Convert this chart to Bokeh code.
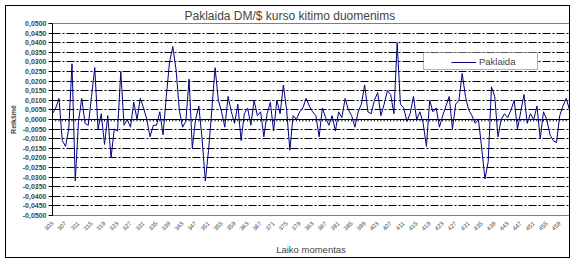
from math import pi
from bokeh.plotting import figure
from bokeh.models import (FixedTicker, Span, BoxAnnotation, Legend, LegendItem,
                          ColumnDataSource, Range1d)
from bokeh.embed import file_html
from bokeh.resources import INLINE

categories = list(range(303, 463))
errors = [
    0.003, 0.006, 0.011, -0.011, -0.014, -0.005, 0.029, -0.032, -0.001, 0.011,
    -0.002, -0.003, 0.012, 0.027, -0.005, 0.003, -0.013, 0.002, -0.020, -0.005,
    -0.006, 0.025, -0.003, 0.000, -0.004, 0.009, 0.000, 0.011, 0.006, 0.000,
    -0.009, -0.003, -0.003, 0.004, -0.008, 0.012, 0.030, 0.038, 0.026, 0.005,
    -0.004, -0.001, 0.021, -0.015, 0.000, 0.007, -0.010, -0.032, -0.016, 0.005,
    0.027, 0.010, 0.004, -0.004, 0.012, 0.004, -0.002, 0.008, -0.011, 0.003,
    0.006, -0.003, 0.010, 0.002, 0.004, -0.009, 0.003, 0.009, -0.006, 0.010,
    0.003, 0.018, 0.005, -0.016, 0.002, 0.000, 0.004, 0.006, 0.011, 0.007,
    0.004, 0.002, -0.009, 0.006, 0.001, -0.003, 0.002, -0.006, 0.004, 0.001,
    0.011, 0.005, 0.002, -0.004, 0.004, 0.008, 0.018, 0.004, 0.003, 0.010,
    0.014, 0.002, 0.008, 0.015, 0.013, 0.003, 0.040, 0.008, 0.006, -0.001,
    0.003, 0.012, 0.000, 0.004, -0.002, -0.014, 0.010, 0.004, 0.006, -0.004,
    0.002, 0.007, 0.012, -0.005, 0.008, 0.010, 0.024, 0.012, 0.005, 0.002,
    -0.002, 0.000, -0.015, -0.031, -0.022, 0.017, 0.012, -0.009, 0.000, 0.003,
    0.001, 0.005, 0.010, -0.005, 0.004, 0.013, -0.002, 0.003, 0.000, 0.007,
    -0.010, 0.004, 0.000, -0.008, -0.011, -0.012, 0.002, 0.007, 0.011, 0.005,
]
x_tick_labels = [303, 307, 311, 315, 319, 323, 327, 331, 335, 339, 343, 347, 351,
                 355, 359, 363, 367, 371, 375, 379, 383, 387, 391, 395, 399, 403,
                 407, 411, 415, 419, 423, 427, 431, 435, 439, 443, 447, 451, 455, 459]
y_ticks = [-0.05, -0.045, -0.04, -0.035, -0.03, -0.025, -0.02, -0.015, -0.01, -0.005,
           0.0, 0.005, 0.01, 0.015, 0.02, 0.025, 0.03, 0.035, 0.04, 0.045, 0.05]
y_tick_labels = ["-0,0500", "-0,0450", "-0,0400", "-0,0350", "-0,0300", "-0,0250",
                 "-0,0200", "-0,0150", "-0,0100", "-0,0050", "0,0000", "0,0050",
                 "0,0100", "0,0150", "0,0200", "0,0250", "0,0300", "0,0350",
                 "0,0400", "0,0450", "0,0500"]

FONT = "Liberation Sans"
NAVY = "#000080"

p = figure(width=565, height=253, output_backend="svg", toolbar_location=None,
           x_range=Range1d(categories[0], categories[-1]),
           y_range=Range1d(y_ticks[0], y_ticks[-1]),
           min_border_left=42, min_border_right=2, min_border_top=15,
           min_border_bottom=44)
p.margin = (5, 0, 0, 5)
p.styles = {"border": "1px solid black", "box-sizing": "border-box"}
p.background_fill_color = "white"
p.border_fill_color = "white"
p.outline_line_color = "#808080"
p.outline_line_width = 1

# title
p.title.text = "Paklaida DM/$ kurso kitimo duomenims"
p.title.text_font = FONT
p.title.text_font_size = "12px"
p.title.text_font_style = "normal"
p.title.align = "left"
p.title.offset = 132
p.title.standoff = 1

# y axis
ya = p.yaxis[0]
ya.ticker = FixedTicker(ticks=y_ticks)
ya.major_label_overrides = dict(zip(y_ticks, y_tick_labels))
ya.major_label_text_font = FONT
ya.major_label_text_font_size = "7px"
ya.major_label_text_font_style = "bold"
ya.major_tick_in = 0
ya.major_tick_out = 4
ya.minor_tick_out = 0
ya.minor_tick_in = 0
ya.major_label_standoff = 2
ya.axis_line_color = "black"
ya.major_tick_line_color = "black"
ya.axis_label = "Reikšmė"
ya.axis_label_text_font = FONT
ya.axis_label_text_font_size = "7px"
ya.axis_label_text_font_style = "bold"
ya.axis_label_standoff = 3

# x axis
xa = p.xaxis[0]
xa.ticker = FixedTicker(ticks=x_tick_labels)
xa.major_label_orientation = pi / 4
xa.major_label_text_font = FONT
xa.major_label_text_font_size = "6px"
xa.major_tick_in = 0
xa.major_tick_out = 0
xa.minor_tick_out = 0
xa.minor_tick_in = 0
xa.axis_line_color = None
xa.major_label_standoff = 7
xa.axis_label = "Laiko momentas"
xa.axis_label_text_font = FONT
xa.axis_label_text_font_size = "9.5px"
xa.axis_label_text_font_style = "normal"
xa.axis_label_standoff = 9

# grid
p.xgrid.visible = False
p.ygrid.ticker = FixedTicker(ticks=y_ticks[1:-1])
p.ygrid.grid_line_color = "black"
p.ygrid.grid_line_width = 1
p.ygrid.grid_line_dash = "8 2 2 2"

# category axis at zero with small tick marks
p.add_layout(Span(location=0, dimension="width", line_color="black", line_width=1))
p.segment(x0=categories, x1=categories, y0=[0.0] * len(categories),
          y1=[-0.001] * len(categories), line_color="black", line_width=1)

src = ColumnDataSource(dict(x=categories, y=errors))
r = p.line("x", "y", source=src, line_color=NAVY, line_width=1)

# legend box and legend
p.add_layout(BoxAnnotation(left=416, right=530, top=45, bottom=62,
                           left_units="canvas", right_units="canvas",
                           top_units="canvas", bottom_units="canvas",
                           fill_color="white", fill_alpha=1,
                           line_color="black", line_width=1))
legend = Legend(items=[LegendItem(label="Paklaida", renderers=[r])],
                location=(396, 145), padding=3, margin=0, glyph_width=25,
                glyph_height=10, label_standoff=3, label_text_font=FONT,
                label_text_font_size="9.5px", border_line_alpha=0,
                background_fill_alpha=0)
p.add_layout(legend, "center")

open("out.html", "w").write(file_html(p, INLINE))
